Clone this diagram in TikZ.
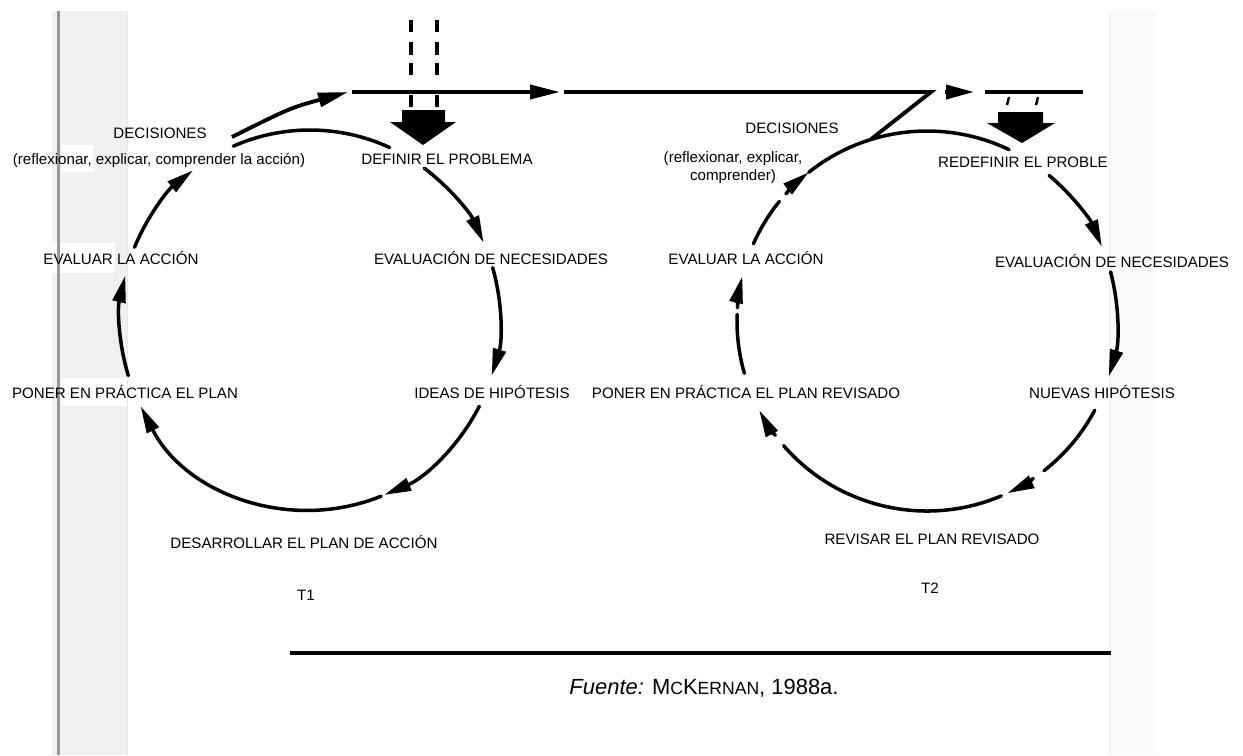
\documentclass[tikz,border=0pt]{standalone}
\usepackage{fontspec}
\setmainfont{Liberation Sans}
\usetikzlibrary{arrows.meta,calc}
\newcommand\lblfont{\fontsize{8.6}{10.2}\selectfont}
\tikzset{
  lbl/.style={font=\lblfont, inner sep=0pt, text height=6.2pt, text depth=0pt},
  cyc/.style={line width=2pt, line cap=round},
  cycarr/.style={cyc, -{Triangle[length=0.54cm, width=0.26cm]}},
  flow/.style={line width=2.2pt},
  flowarr/.style={flow, -{Triangle[length=0.6cm, width=0.28cm]}},
}
\begin{document}
\begin{tikzpicture}[x=0.02cm, y=-0.02cm]
      \useasboundingbox (0,0) rectangle (1243,755);
      \fill[black!6] (52,11) rectangle (128,755);
      \fill[black!2] (1109,11) rectangle (1157,755);
      \fill[white] (61,145) rectangle (93,172);
      \fill[white] (42,243) rectangle (115,273);
      \fill[white] (61,378) rectangle (128,406);
      \draw[black!40, line width=1.2pt] (58.5,11) -- (58.5,755);
      \draw[black!9, line width=0.6pt] (127.5,11) -- (127.5,755);
      \draw[black!5, line width=0.6pt] (1109.5,11) -- (1109.5,755);

      \node[lbl] (decL) at (160,133) {DECISIONES};
      \node[lbl] (decLsub) at (159,159) {(reflexionar, explicar, comprender la acción)};
      \node[lbl] (defL) at (447,159) {DEFINIR EL PROBLEMA};
      \node[lbl] (necL) at (491,259) {EVALUACIÓN DE NECESIDADES};
      \node[lbl] (hipL) at (492,393) {IDEAS DE HIPÓTESIS};
      \node[lbl] (desL) at (304,543) {DESARROLLAR EL PLAN DE ACCIÓN};
      \node[lbl] (ponL) at (125,393) {PONER EN PRÁCTICA EL PLAN};
      \node[lbl] (evaL) at (121,259) {EVALUAR LA ACCIÓN};
      \node[lbl] (tL) at (306,595) {T1};

      \node[lbl] (decR) at (792,128) {DECISIONES};
      \node[font=\lblfont, inner sep=0pt, align=center, anchor=base] (decRsub) at (733,180)
        {(reflexionar, explicar,\\ comprender)};
      \node[lbl] (defR) at (1023,162) {REDEFINIR EL PROBLE};
      \node[lbl] (necR) at (1112,262) {EVALUACIÓN DE NECESIDADES};
      \node[lbl] (hipR) at (1102,393) {NUEVAS HIPÓTESIS};
      \node[lbl] (revR) at (932,539) {REVISAR EL PLAN REVISADO};
      \node[lbl] (ponR) at (746,393) {PONER EN PRÁCTICA EL PLAN REVISADO};
      \node[lbl] (evaR) at (746,259) {EVALUAR LA ACCIÓN};
      \node[lbl] (tR) at (930,588) {T2};

      \node[font=\fontsize{12.5}{15}\selectfont, inner sep=0pt, text height=9pt, text depth=0pt] (src) at (704,687)
        {\textit{Fuente:} M{\fontsize{10}{12}\selectfont C}K{\fontsize{10}{12}\selectfont ERNAN}, 1988a.};

      \coordinate (cL) at (310,320);
      \coordinate (cR) at (927,321);
      \coordinate (decOut) at (232,137);
      \coordinate (decTip) at (348,92);
      \coordinate (lnA) at (352,92);
      \coordinate (lnB) at (560,92);
      \coordinate (lnC) at (564,92);
      \coordinate (zTop) at (931,92);
      \coordinate (zBot) at ($(cR)+(-107.3:190)$);
      \coordinate (tipA) at (945,92);
      \coordinate (tipB) at (974,92);
      \coordinate (lnD) at (985,92);
      \coordinate (lnE) at (1083,92);
      \coordinate (ruleA) at (290,653);
      \coordinate (ruleB) at (1111,653);

      \draw[flowarr] (decOut) .. controls (290,108) .. (decTip);
      \draw[flowarr] (lnA) -- (lnB);
      \draw[flow, line join=miter] (lnC) -- (zTop) -- (zBot);
      \draw[flow, -{Triangle[length=0.56cm, width=0.28cm]}] (tipA) -- (tipB);
      \draw[flow] (lnD) -- (lnE);

      \foreach \x in {411,437}
        \foreach \a/\b in {20/32,42/55,63/75,95/107}
          \draw[line width=1.8pt] (\x,\a) -- (\x,\b);
      \draw[line width=1.4pt] (1009,97) -- (1007,105);
      \draw[line width=1.4pt] (1038,97) -- (1036,105);
      \fill (402,110) -- (445,110) -- (445,122) -- (456,122) -- (423,145) -- (390,122) -- (402,122) -- cycle;
      \fill (998,112) -- (1043,112) -- (1043,123) -- (1055,123) -- (1022,143) -- (987,123) -- (998,123) -- cycle;

      \draw[cyc] ($(cL)+(-113.8:190)$) arc[start angle=-113.8, end angle=-65.2, radius=190];
      \draw[cycarr] ($(cL)+(-53:190)$) arc[start angle=-53, end angle=-24, radius=190];
      \draw[cycarr] ($(cL)+(-16:190)$) arc[start angle=-16, end angle=17, radius=190];
      \draw[cycarr] ($(cL)+(27:190)$) arc[start angle=27, end angle=67, radius=190];
      \draw[cycarr] ($(cL)+(68:190)$) arc[start angle=68, end angle=153, radius=190];
      \draw[cycarr] ($(cL)+(163:190)$) arc[start angle=163, end angle=193.5, radius=190];
      \draw[cycarr] ($(cL)+(-157.5:190)$) arc[start angle=-157.5, end angle=-128, radius=190];

      \draw[cyc] ($(cR)+(-128.5:190)$) arc[start angle=-128.5, end angle=-64.4, radius=190];
      \draw[cycarr] ($(cR)+(-50:190)$) arc[start angle=-50, end angle=-23, radius=190];
      \draw[cycarr] ($(cR)+(-15:190)$) arc[start angle=-15, end angle=17, radius=190];
      \draw[cyc] ($(cR)+(28:190)$) arc[start angle=28, end angle=52, radius=190];
      \draw[cycarr] ($(cR)+(56:190)$) arc[start angle=56, end angle=65, radius=190];
      \draw[cyc] ($(cR)+(67:190)$) arc[start angle=67, end angle=139, radius=190];
      \draw[cycarr] ($(cR)+(143:190)$) arc[start angle=143, end angle=152, radius=190];
      \draw[cyc] ($(cR)+(164:190)$) arc[start angle=164, end angle=182, radius=190];
      \draw[cycarr] ($(cR)+(184:190)$) arc[start angle=184, end angle=193.6, radius=190];
      \draw[cyc] ($(cR)+(-156:190)$) arc[start angle=-156, end angle=-141, radius=190];
      \draw[cycarr] ($(cR)+(-138:190)$) arc[start angle=-138, end angle=-128.5, radius=190];

      \draw[line width=2.3pt] (ruleA) -- (ruleB);
    \end{tikzpicture}
\end{document}
